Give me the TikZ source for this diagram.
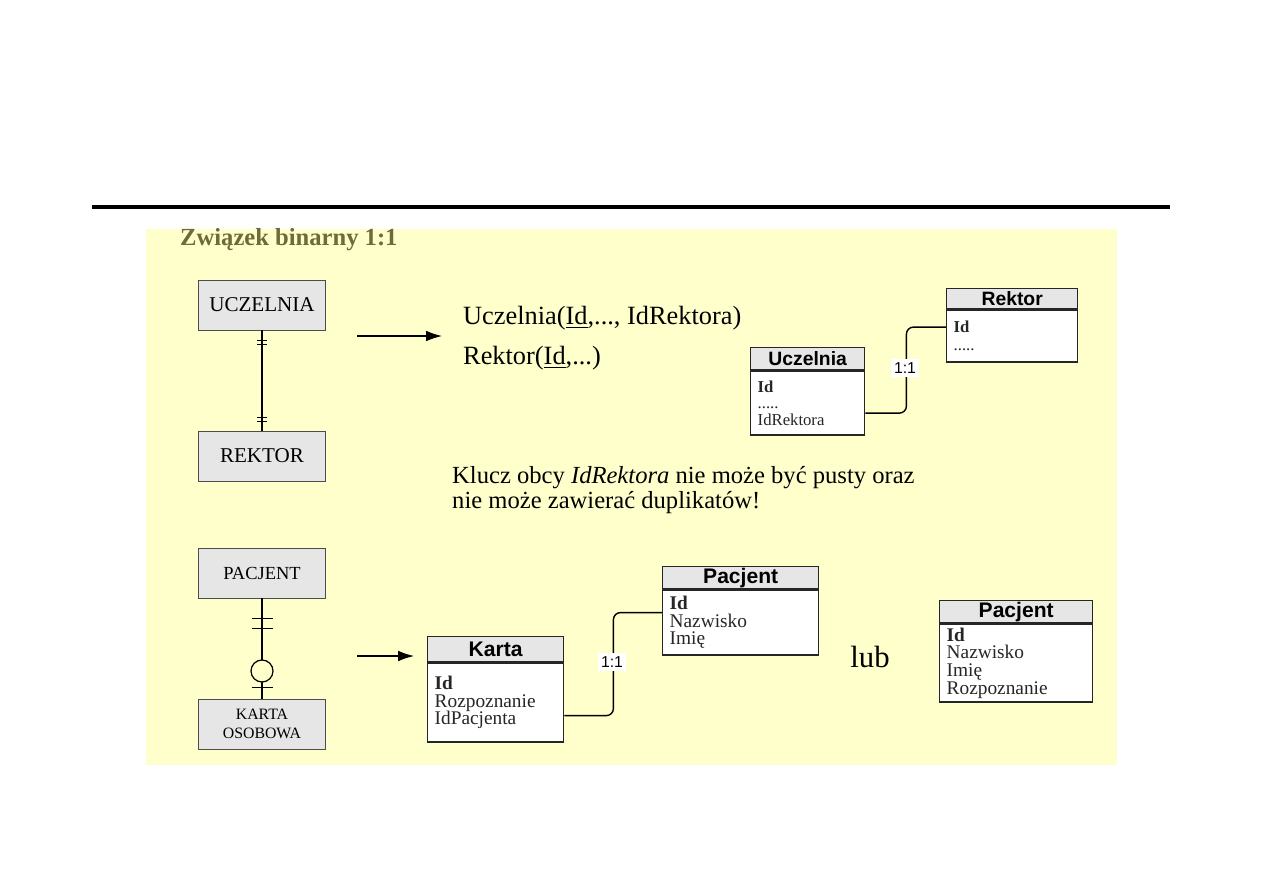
\documentclass[tikz,border=0pt]{standalone}
\usepackage{fontspec}
\setmainfont{Liberation Serif}
\setsansfont{Liberation Sans}
\usetikzlibrary{arrows.meta, positioning}
\definecolor{paper}{HTML}{FFFFCC}
\definecolor{titleolive}{RGB}{110,106,58}
\definecolor{boxgray}{HTML}{E6E6E6}

\begin{document}
\begin{tikzpicture}[x=0.02cm, y=-0.02cm,
    entity/.style={draw=black!70, fill=boxgray, minimum width=2.54cm, minimum height=1cm, align=center},
    tabhead/.style={draw=black!85, line width=0.8pt, fill=boxgray, anchor=north west, inner sep=0pt, font=\sffamily\bfseries\fontsize{11}{12}\selectfont},
    tabbody/.style={draw=black!85, line width=0.8pt, fill=white, anchor=north, inner xsep=4pt, inner ysep=0pt, align=left, text=black!85, font=\fontsize{11}{10}\selectfont},
    card/.style={fill=white, inner sep=1.8pt, font=\sffamily\fontsize{9}{10}\selectfont},
    link/.style={line width=0.8pt, rounded corners=4pt},
    tick/.style={line width=0.6pt}]
    \useasboundingbox (0,0) rectangle (1263,893);

    % Slide frame
    \draw[line width=2.3pt] (92,207) -- (1170,207);
    \fill[paper] (146,229) rectangle (1117,765);
    \node[anchor=west, text=titleolive, font=\bfseries\fontsize{14}{16}\selectfont] (title) at (174,240) {Związek binarny 1:1};

    % Cycle 1: UCZELNIA -- REKTOR
    \node[entity, font=\fontsize{12}{13}\selectfont] (uczelnia) at (262,305) {UCZELNIA};
    \node[entity, font=\fontsize{12}{13}\selectfont] (rektor) at (262,456) {REKTOR};
    \draw[line width=0.7pt] (uczelnia) -- (rektor);
    \draw[tick] ([xshift=-0.1cm, yshift=-0.2cm]uczelnia.south) -- ++(10,0);
    \draw[tick] ([xshift=-0.1cm, yshift=-0.28cm]uczelnia.south) -- ++(10,0);
    \draw[tick] ([xshift=-0.1cm, yshift=0.18cm]rektor.north) -- ++(10,0);
    \draw[tick] ([xshift=-0.1cm, yshift=0.26cm]rektor.north) -- ++(10,0);

    \coordinate (arrAs) at (357,336);
    \coordinate (arrAe) at (442,336);
    \draw[-{Latex[length=9pt, width=6pt]}, line width=0.7pt] (arrAs) -- (arrAe);

    \node[anchor=west, font=\fontsize{15}{17}\selectfont] (relU) at (457,318) {Uczelnia(\underline{Id},..., IdRektora)};
    \node[anchor=west, font=\fontsize{15}{17}\selectfont] (relR) at (457,358) {Rektor(\underline{Id},...)};

    \node[tabhead, minimum width=2.28cm, minimum height=0.44cm] (uhead) at (750,347) {Uczelnia};
    \node[tabbody, text width=2.0cm, minimum height=1.28cm, font=\fontsize{9.5}{9.5}\selectfont] (ubody) at (uhead.south) {\textbf{Id}\\.....\\IdRektora};
    \node[tabhead, minimum width=2.62cm, minimum height=0.4cm] (rhead) at (946,288) {Rektor};
    \node[tabbody, text width=2.34cm, minimum height=1.04cm, font=\fontsize{9.5}{10}\selectfont] (rbody) at (rhead.south) {\textbf{Id}\\.....};
    \draw[link] ([yshift=-0.2cm]ubody.east) -- ++(41,0) |- ([yshift=0.18cm]rbody.west);
    \node[card] (relA) at (905,368) {1:1};

    \node[anchor=north west, align=left, font=\fontsize{14}{14.5}\selectfont] (note) at (446,460)
        {Klucz obcy \textit{IdRektora} nie może być pusty oraz\\nie może zawierać duplikatów!};

    % Cycle 2: PACJENT -- KARTA OSOBOWA
    \node[entity, font=\fontsize{10.5}{12}\selectfont] (pacjent) at (262,573) {PACJENT};
    \node[entity, font=\fontsize{9}{10.5}\selectfont] (karta) at (262,724) {KARTA\\OSOBOWA};
    \draw[line width=0.7pt] (pacjent) -- (karta);
    \draw[tick] ([xshift=-0.21cm, yshift=-0.4cm]pacjent.south) -- ++(21,0);
    \draw[tick] ([xshift=-0.21cm, yshift=-0.6cm]pacjent.south) -- ++(21,0);
    \node[draw, circle, fill=paper, line width=0.7pt, minimum size=0.44cm, inner sep=0pt] (opt) at (262,671) {};
    \draw[tick] ([xshift=-0.21cm, yshift=0.22cm]karta.north) -- ++(21,0);

    \coordinate (arrBs) at (357,656);
    \coordinate (arrBe) at (414,656);
    \draw[-{Latex[length=9pt, width=6pt]}, line width=0.7pt] (arrBs) -- (arrBe);

    \node[tabhead, minimum width=2.72cm, minimum height=0.5cm, font=\sffamily\bfseries\fontsize{12}{13}\selectfont] (khead) at (427,636) {Karta};
    \node[tabbody, text width=2.44cm, minimum height=1.58cm] (kbody) at (khead.south) {\textbf{Id}\\Rozpoznanie\\IdPacjenta};
    \node[tabhead, minimum width=3.12cm, minimum height=0.44cm, font=\sffamily\bfseries\fontsize{12}{13}\selectfont] (phead) at (662,566) {Pacjent};
    \node[tabbody, text width=2.84cm, minimum height=1.3cm] (pbody) at (phead.south) {\textbf{Id}\\Nazwisko\\Imię};
    \draw[link] ([yshift=-0.26cm]kbody.east) -- ++(49,0) |- ([yshift=0.2cm]pbody.west);
    \node[card] (relB) at (612,662) {1:1};

    \node[font=\fontsize{17.5}{19}\selectfont] (lub) at (870,657) {lub};

    \node[tabhead, minimum width=3.06cm, minimum height=0.44cm, font=\sffamily\bfseries\fontsize{12}{13}\selectfont] (p2head) at (939,600) {Pacjent};
    \node[tabbody, text width=2.78cm, minimum height=1.56cm] (p2body) at (p2head.south) {\textbf{Id}\\Nazwisko\\Imię\\Rozpoznanie};

\end{tikzpicture}
\end{document}
